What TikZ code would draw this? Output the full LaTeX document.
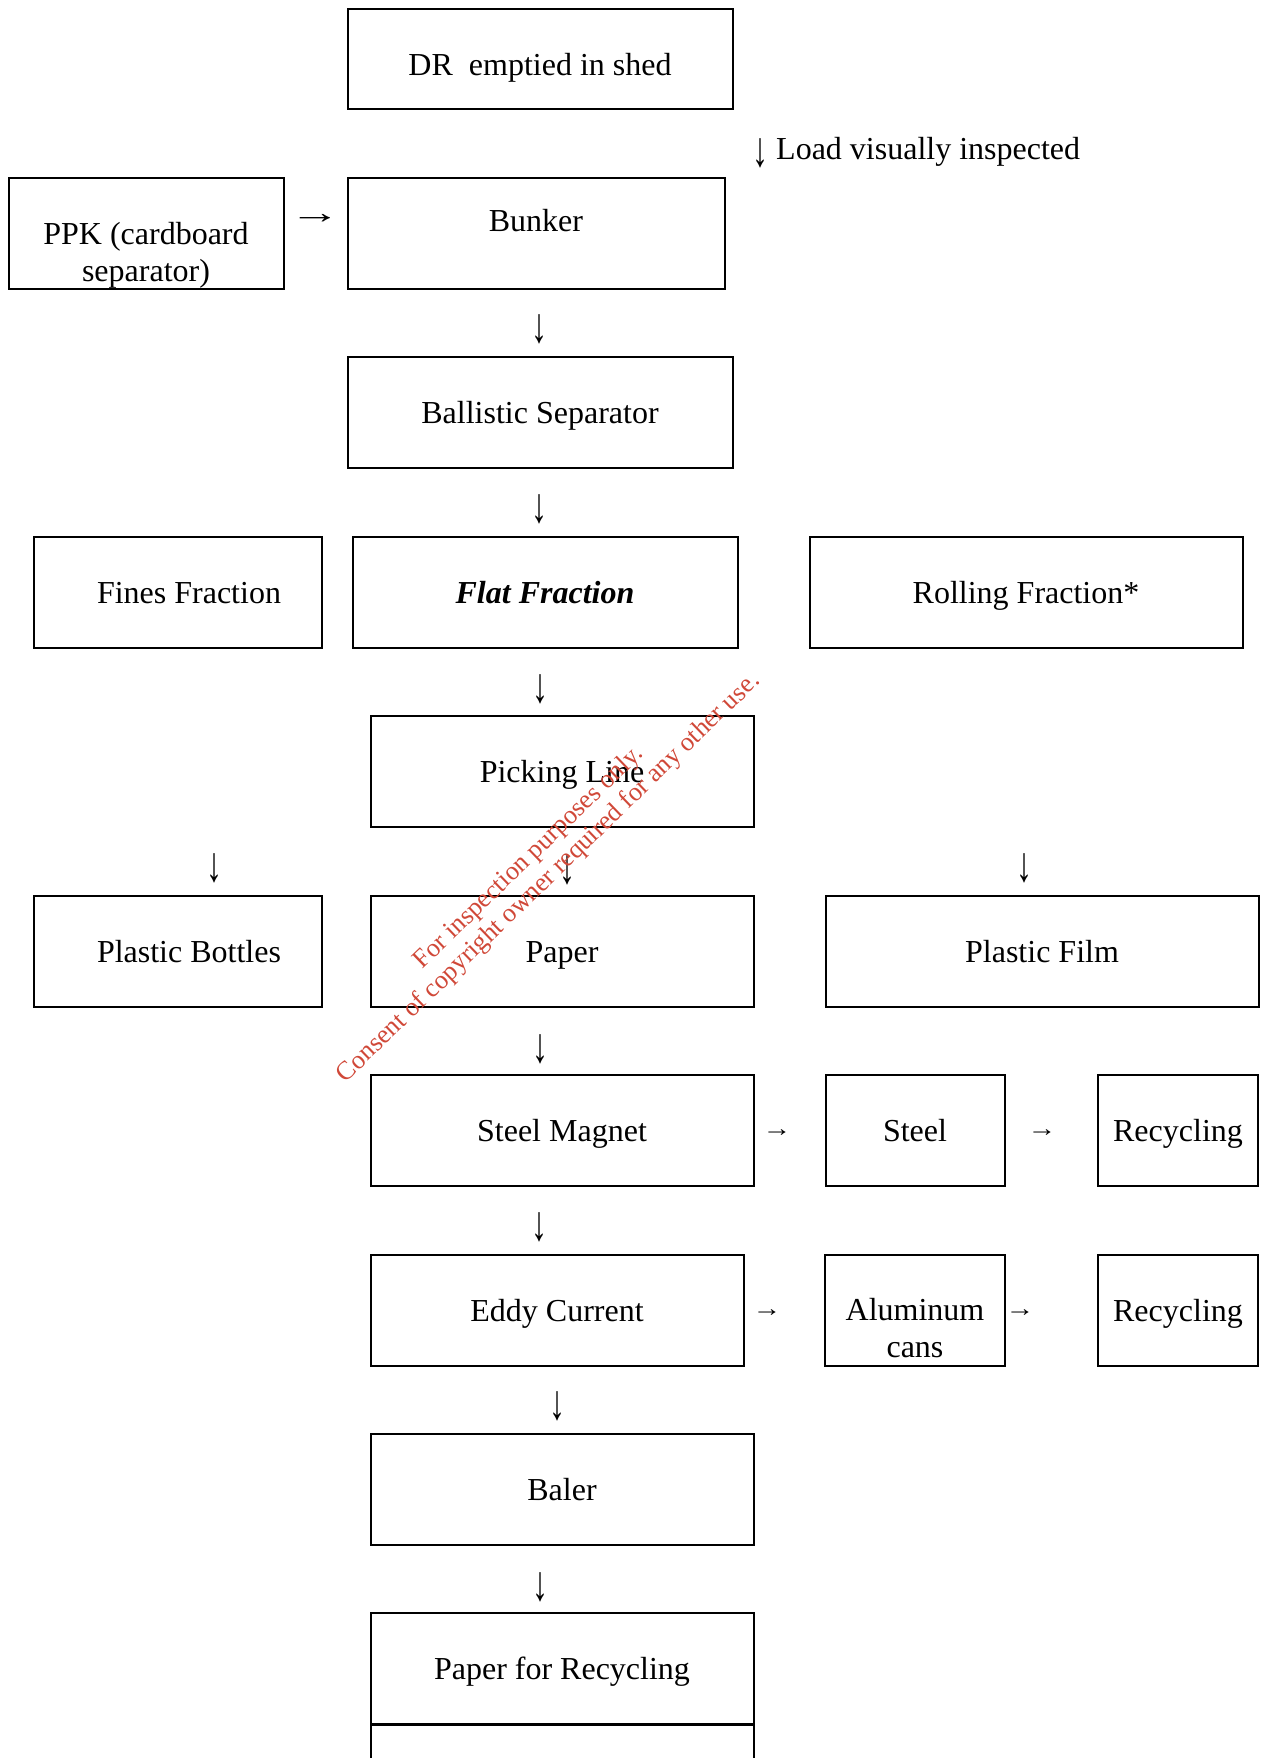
\documentclass[tikz,border=0pt]{standalone}
\usepackage{fontspec}
\setmainfont{Liberation Serif}
\usepackage{tikz}

\definecolor{stamp}{RGB}{208,72,56}
\newcommand{\dn}{\scalebox{1}[1.55]{↓}}
\newcommand{\rt}{\scalebox{1.6}[1]{→}}
\newcommand{\srt}{\scalebox{0.9}[0.75]{→}}

\begin{document}
\begin{tikzpicture}[x=1pt, y=-1pt, every node/.style={inner sep=0pt, font=\fontsize{32}{37}\selectfont}]

	\tikzset{box/.style = {draw=black, line width=2pt, rectangle, align=center, minimum height=111pt,
		text height=22pt, text depth=0pt}}
	\tikzset{txt/.style = {text height=22pt, text depth=0pt}}

	\useasboundingbox (0,0) rectangle (1268,1758);

	% boxes
	\node[box, minimum width=385pt, minimum height=100pt] (dr) at (540,59) {};
	\node[box, minimum width=275pt] (ppk) at (146,233) {};
	\node[box, minimum width=377pt] (bunker) at (536,233) {};
	\node[box, minimum width=385pt] (ballistic) at (540,412) {Ballistic Separator};

	\node[box, minimum width=288pt] (fines) at (178,592) {};
	\node[box, minimum width=385pt] (flat) at (545,592) {\textbf{\textit{Flat Fraction}}};
	\node[box, minimum width=433pt] (rolling) at (1026,592) {Rolling Fraction*};

	\node[box, minimum width=383pt] (picking) at (562,771) {Picking Line};

	\node[box, minimum width=288pt] (bottles) at (178,951) {};
	\node[box, minimum width=383pt] (paper) at (562,951) {Paper};
	\node[box, minimum width=433pt] (film) at (1042,951) {Plastic Film};

	\node[box, minimum width=383pt] (magnet) at (562,1130) {Steel Magnet};
	\node[box, minimum width=179pt] (steel) at (915,1130) {Steel};
	\node[box, minimum width=160pt] (recyc1) at (1178,1130) {Recycling};

	\node[box, minimum width=373pt] (eddy) at (557,1310) {Eddy Current};
	\node[box, minimum width=180pt] (alu) at (915,1310) {};
	\node[box, minimum width=160pt] (recyc2) at (1178,1310) {Recycling};

	\node[box, minimum width=383pt] (baler) at (562,1489) {Baler};
	\node[box, minimum width=383pt] (paperrec) at (562,1668) {Paper for Recycling};
	\node[box, minimum width=383pt] (next) at (562,1780) {};

	% texts set off centre
	\node[txt] at ([yshift=-6pt]dr.center) {DR\ \ emptied in shed};
	\node[align=center] at ([yshift=-22pt]ppk.center) {PPK (cardboard\\separator)};
	\node[txt] at ([yshift=13pt]bunker.center) {Bunker};
	\node[txt] at ([xshift=11pt]fines.center) {Fines Fraction};
	\node[txt] at ([xshift=11pt]bottles.center) {Plastic Bottles};
	\node[align=center] at ([yshift=-18pt]alu.center) {Aluminum\\cans};

	% arrows as printed
	\node[anchor=base west] (load) at (752,159) {\raisebox{-8pt}{\dn} Load visually inspected};
	\node (a1) at (315,219) {\rt};
	\foreach \n/\x/\y in {a2/539/329, a3/539/509, a4/540/689, a5/214/868, a6/567/870,
		a7/1024/868, a8/540/1049, a9/539/1227, a10/557/1406, a11/540/1587}
	\node (\n) at (\x,\y) {\dn};
	\foreach \n/\x/\y in {b1/777/1133, b2/1042/1133, b3/767/1313, b4/1020/1313}
	\node (\n) at (\x,\y) {\srt};

	% watermark
	\node[text=stamp, rotate=44, align=center, font=\fontsize{26.2}{28.5}\selectfont] (stamp) at (539,868)
		{For inspection purposes only.\\Consent of copyright owner required for any other use.};

\end{tikzpicture}
\end{document}
